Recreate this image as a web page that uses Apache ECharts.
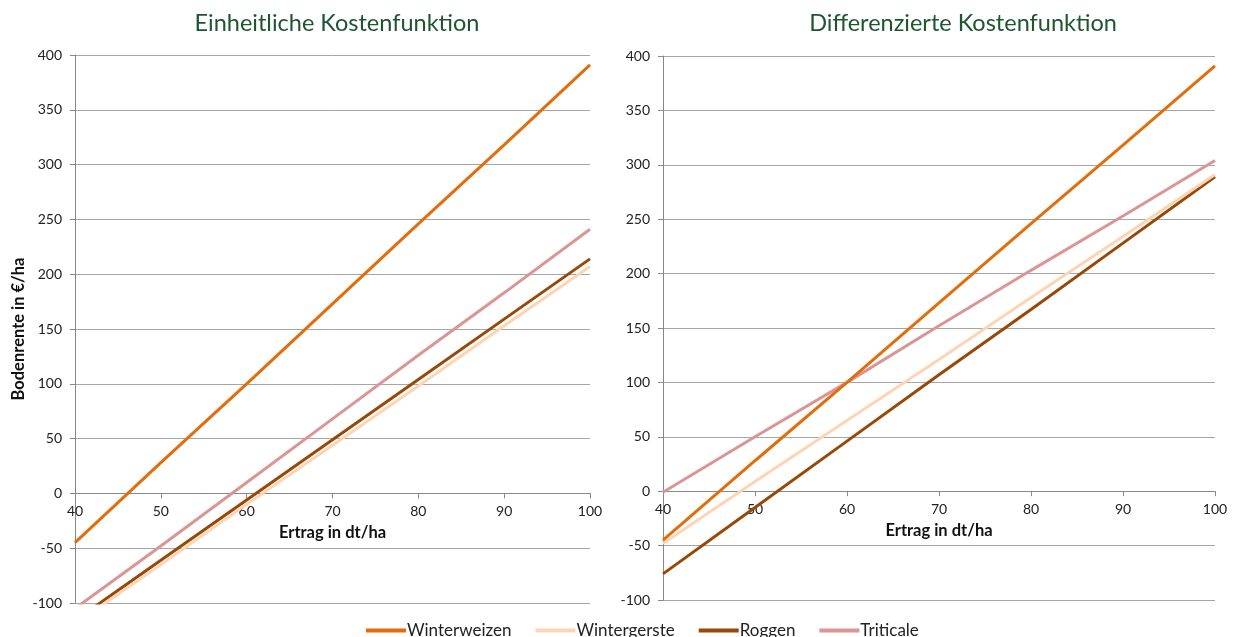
<!DOCTYPE html>
<html>
<head>
<meta charset="utf-8">
<script src="https://cdn.jsdelivr.net/npm/echarts@6/dist/echarts.min.js"></script>
<style>
html,body{margin:0;padding:0;background:#fff;}
#c{width:1235px;height:637px;}
</style>
</head>
<body>
<div id="c"></div>
<script>
// Data
const ertrag = [40, 50, 60, 70, 80, 90, 100];
const seriesNames = ['Winterweizen', 'Wintergerste', 'Roggen', 'Triticale'];
const titles = ['Einheitliche Kostenfunktion', 'Differenzierte Kostenfunktion'];

// Einheitliche Kostenfunktion
const einWinterweizen = [-45, 28, 100, 173, 246, 318, 391];
const einWintergerste = [-119, -65, -10, 44, 98, 153, 207];
const einRoggen       = [-116, -61, -6, 49, 104, 159, 214];
const einTriticale    = [-105, -48, 10, 68, 126, 183, 241];

// Differenzierte Kostenfunktion
const difWinterweizen = [-45, 28, 100, 173, 246, 318, 391];
const difWintergerste = [-48, 9, 65, 121, 178, 234, 291];
const difRoggen       = [-76, -15, 46, 107, 167, 228, 289];
const difTriticale    = [-1, 50, 100, 152, 203, 253, 304];

const colors = {
  Winterweizen: '#E46C0A',
  Wintergerste: '#FCD5B5',
  Roggen: '#984807',
  Triticale: '#D99694'
};

const FONT = 'Lato, "Open Sans", sans-serif';

function pairs(vals){ return ertrag.map((x,i)=>[x, vals[i]]); }

const sets = [
  [einWinterweizen, einWintergerste, einRoggen, einTriticale],
  [difWinterweizen, difWintergerste, difRoggen, difTriticale]
];

const series = [];
sets.forEach((set, gi) => {
  set.forEach((vals, si) => {
    const name = seriesNames[si];
    series.push({
      name: name,
      type: 'line',
      xAxisIndex: gi,
      yAxisIndex: gi,
      data: pairs(vals),
      showSymbol: false,
      symbol: 'none',
      clip: true,
      silent: true,
      z: 10 - si,
      lineStyle: { color: colors[name], width: 3 },
      itemStyle: { color: colors[name] }
    });
  });
});

const grids = [
  { left: 75, top: 55, width: 515, height: 548, outerBoundsMode: 'none', containLabel: false },
  { left: 663, top: 56, width: 552, height: 544, outerBoundsMode: 'none', containLabel: false }
];
const yMin = -100, yMax = 400;

function xAxis(gi){
  // place the x axis at y = 0 of the value axis
  const g = grids[gi];
  const off = -g.height * (0 - yMin) / (yMax - yMin);
  return {
    type: 'value', gridIndex: gi, min: 40, max: 100, interval: 10,
    position: 'bottom', offset: off,
    axisLine: { show: true, onZero: false, lineStyle: { color: '#888888', width: 1 } },
    axisTick: { show: true, length: 5, lineStyle: { color: '#888888' } },
    axisLabel: { color: '#222', fontSize: 14, fontFamily: FONT, margin: 11 },
    splitLine: { show: false },
    name: 'Ertrag in dt/ha', nameLocation: 'middle', nameGap: 31,
    nameTextStyle: { color: '#111', fontSize: 16.5, fontWeight: 'bold', fontFamily: FONT }
  };
}
function yAxis(gi){
  const a = {
    type: 'value', gridIndex: gi, min: yMin, max: yMax, interval: 50,
    axisLine: { show: true, lineStyle: { color: '#888888', width: 1 } },
    axisTick: { show: true, length: 5, lineStyle: { color: '#888888' } },
    axisLabel: { color: '#222', fontSize: 14, fontFamily: FONT, margin: 13 },
    splitLine: { show: true, lineStyle: { color: '#a6a6a6', width: 1 } }
  };
  if (gi === 0) {
    a.name = 'Bodenrente in €/ha';
    a.nameLocation = 'middle';
    a.nameGap = 48;
    a.nameTextStyle = { color: '#111', fontSize: 16.5, fontWeight: 'bold', fontFamily: FONT };
  }
  return a;
}

const chart = echarts.init(document.getElementById('c'), null, { renderer: 'canvas' });
chart.setOption({
  animation: false,
  backgroundColor: '#ffffff',
  title: [
    { text: titles[0], left: 332, top: 6, textAlign: 'center',
      textStyle: { color: '#1E5631', fontSize: 23.5, fontWeight: 'normal', fontFamily: FONT } },
    { text: titles[1], left: 958, top: 6, textAlign: 'center',
      textStyle: { color: '#1E5631', fontSize: 23.5, fontWeight: 'normal', fontFamily: FONT } }
  ],
  legend: {
    data: seriesNames,
    left: 361, top: 617,
    icon: 'rect', itemWidth: 40, itemHeight: 4, itemGap: 24,
    textStyle: { color: '#222', fontSize: 17, fontFamily: FONT, padding: [0, 0, 0, -4] }
  },
  grid: grids,
  xAxis: [xAxis(0), xAxis(1)],
  yAxis: [yAxis(0), yAxis(1)],
  series: series
});
</script>
</body>
</html>
